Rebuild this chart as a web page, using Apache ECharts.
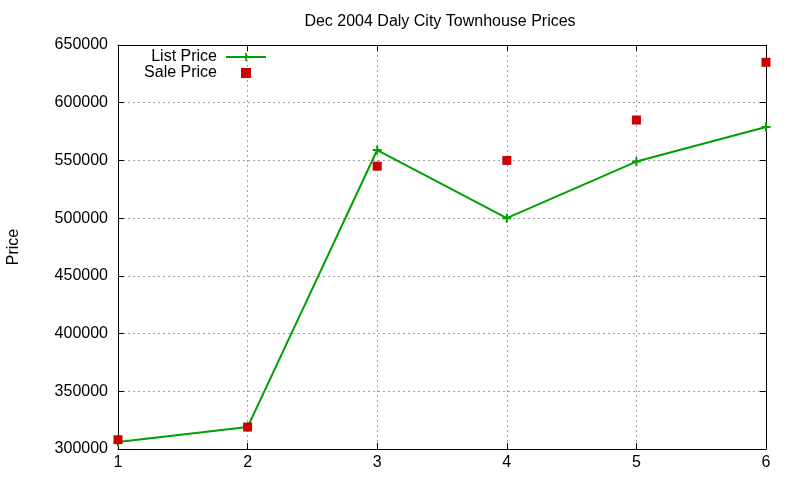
<!DOCTYPE html>
<html>
<head>
<meta charset="utf-8">
<script src="https://cdn.jsdelivr.net/npm/echarts@6/dist/echarts.min.js"></script>
<style>html,body{margin:0;padding:0;background:#fff}#c{width:800px;height:480px}</style>
</head>
<body>
<div id="c"></div>
<script>
var xValues = [1, 2, 3, 4, 5, 6];
var listPrice = [306000, 319000, 559000, 500000, 549000, 579000];
var salePrice = [308000, 319000, 545000, 550000, 585000, 635000];
var yTicks = {min: 300000, max: 650000, interval: 50000};

var FONT = 'Liberation Sans, Arial, sans-serif';
var FS = 16;
var plus = 'path://M3.5,0H5.5V3.5H9V5.5H5.5V9H3.5V5.5H0V3.5H3.5Z';
function pairs(v){ return xValues.map(function(x,i){return [x, v[i]];}); }

var chart = echarts.init(document.getElementById('c'));
var gridLine = {show:true, lineStyle:{color:'#a0a0a0', width:1, type:[2,3]}};
chart.setOption({
  animation:false,
  backgroundColor:'#fff',
  title:{text:'Dec 2004 Daly City Townhouse Prices', left:435, textAlign:'center', top:9,
    textStyle:{fontFamily:FONT, fontSize:FS, fontWeight:'normal', color:'#000'}},
  legend:[
    {data:['List Price'], orient:'vertical', right:528, top:44, align:'right', itemWidth:40, itemHeight:10,
     textStyle:{fontFamily:FONT, fontSize:FS, color:'#000', padding:[0,4,0,0]}},
    {data:['Sale Price'], orient:'vertical', right:544, top:60, align:'right', itemWidth:10, itemHeight:10,
     textStyle:{fontFamily:FONT, fontSize:FS, color:'#000', padding:[0,19,0,0]}}
  ],
  grid:{left:118, right:34, top:45, bottom:31, outerBoundsMode:'none', containLabel:false},
  xAxis:[
    {type:'value', min:1, max:6, interval:1,
     axisLine:{show:true, onZero:false, lineStyle:{color:'#000', width:1}},
     axisTick:{show:true, inside:true, length:6, lineStyle:{color:'#000'}},
     axisLabel:{fontFamily:FONT, fontSize:FS, color:'#000', margin:6},
     splitLine:gridLine},
    {type:'value', position:'top', min:1, max:6, interval:1,
     axisLine:{show:true, onZero:false, lineStyle:{color:'#000', width:1}},
     axisTick:{show:true, inside:true, length:6, lineStyle:{color:'#000'}},
     axisLabel:{show:false}, splitLine:{show:false}}
  ],
  yAxis:[
    {type:'value', min:yTicks.min, max:yTicks.max, interval:yTicks.interval,
     name:'Price', nameLocation:'middle', nameGap:96, nameRotate:90,
     nameTextStyle:{fontFamily:FONT, fontSize:FS, color:'#000'},
     axisLine:{show:true, onZero:false, lineStyle:{color:'#000', width:1}},
     axisTick:{show:true, inside:true, length:6, lineStyle:{color:'#000'}},
     axisLabel:{fontFamily:FONT, fontSize:FS, color:'#000', margin:10,
       formatter:function(v){return String(v);}},
     splitLine:gridLine},
    {type:'value', position:'right', min:yTicks.min, max:yTicks.max, interval:yTicks.interval,
     axisLine:{show:true, onZero:false, lineStyle:{color:'#000', width:1}},
     axisTick:{show:true, inside:true, length:6, lineStyle:{color:'#000'}},
     axisLabel:{show:false}, splitLine:{show:false}}
  ],
  series:[
    {name:'List Price', type:'line', data:pairs(listPrice), symbol:plus, symbolSize:9, showAllSymbol:true,
     lineStyle:{color:'#00a000', width:2}, itemStyle:{color:'#00a000'}, z:3},
    {name:'Sale Price', type:'scatter', data:pairs(salePrice), symbol:'rect', symbolSize:9,
     itemStyle:{color:'#cc0000', opacity:1}, z:4}
  ]
});
</script>
</body>
</html>
